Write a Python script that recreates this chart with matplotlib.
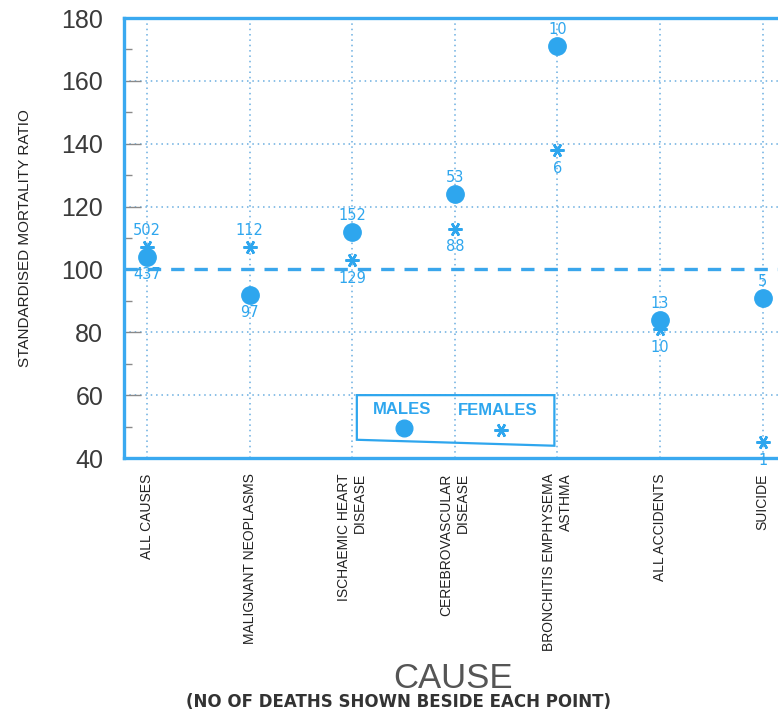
import matplotlib
matplotlib.use("Agg")
import matplotlib.pyplot as plt
from matplotlib.patches import Polygon
from matplotlib.ticker import MultipleLocator

causes = [
    "ALL CAUSES",
    "MALIGNANT NEOPLASMS",
    "ISCHAEMIC HEART\nDISEASE",
    "CEREBROVASCULAR\nDISEASE",
    "BRONCHITIS EMPHYSEMA\nASTHMA",
    "ALL ACCIDENTS",
    "SUICIDE",
]
male_smr = [104, 92, 112, 124, 171, 84, 91]
female_smr = [107, 107, 103, 113, 138, 81, 45]
male_deaths = [437, 97, 152, 53, 10, 13, 5]
female_deaths = [502, 112, 129, 88, 6, 10, 1]

BLUE = "#2ea6ee"
SANS = ["Liberation Sans", "DejaVu Sans"]
STAR = (6, 2, 90)

fig = plt.figure(figsize=(7.78, 7.12), dpi=100)
ax = fig.add_axes([124 / 778, 254 / 712, 690 / 778, 440 / 712])

x = list(range(len(causes)))
ax.set_xlim(-0.224, 6.5)
ax.set_ylim(40, 180)

# dotted grid: verticals at every cause, horizontals every 20
for xi in x:
    ax.axvline(xi, color="#6aaee0", ls=(0, (1, 2.5)), lw=1.1, zorder=1)
for yv in [60, 80, 120, 140, 160]:
    ax.axhline(yv, color="#6aaee0", ls=(0, (1, 2.5)), lw=1.1, zorder=1)
ax.axhline(100, color="#3aa6ec", ls=(0, (4, 3)), lw=2.4, zorder=2)

ax.plot(x, male_smr, ls="none", marker="o", ms=12.5, color=BLUE,
        mec=BLUE, zorder=4)
ax.plot(x, female_smr, ls="none", marker=STAR, ms=10, mew=1.8,
        color=BLUE, mec=BLUE, zorder=4)

# death counts: upper point labelled above, lower one below
for xi, m, f, md, fd in zip(x, male_smr, female_smr, male_deaths, female_deaths):
    hi, lo = (m, f) if m >= f else (f, m)
    hi_n, lo_n = (md, fd) if m >= f else (fd, md)
    ax.annotate(str(hi_n), (xi, hi), xytext=(0, 12), textcoords="offset points",
                ha="center", va="center", color=BLUE, fontsize=10.5,
                family="DejaVu Sans", zorder=5)
    ax.annotate(str(lo_n), (xi, lo), xytext=(0, -13), textcoords="offset points",
                ha="center", va="center", color=BLUE, fontsize=10.5,
                family="DejaVu Sans", zorder=5)

# key box
box = Polygon([(2.045, 60), (2.045, 45.8), (3.97, 43.9), (3.97, 60)],
              closed=True, fill=False, ec=BLUE, lw=1.6, zorder=3)
ax.add_patch(box)
ax.text(2.49, 55.5, "MALES", color=BLUE, fontsize=12, fontweight="bold",
        ha="center", va="center", family=SANS)
ax.text(3.42, 55, "FEMALES", color=BLUE, fontsize=12, fontweight="bold",
        ha="center", va="center", family=SANS)
ax.plot([2.5], [49.5], ls="none", marker="o", ms=12, color=BLUE, zorder=4)
ax.plot([3.45], [48.8], ls="none", marker=STAR, ms=10, mew=1.8,
        color=BLUE, zorder=4)

for side in ["left", "bottom", "top"]:
    ax.spines[side].set_color("#3aa9f0")
    ax.spines[side].set_linewidth(2.4)
ax.spines["right"].set_visible(False)

ax.yaxis.set_major_locator(MultipleLocator(20))
ax.yaxis.set_minor_locator(MultipleLocator(10))
ax.tick_params(axis="y", which="major", direction="in", length=12, width=1,
               color="#8a8a8a", pad=15, labelsize=18, labelcolor="#3a3a3a")
ax.tick_params(axis="y", which="minor", direction="in", length=6, width=1,
               color="#8a8a8a")
for lab in ax.get_yticklabels():
    lab.set_family(SANS)

ax.set_xticks(x)
ax.set_xticklabels(causes, rotation=90, va="top", ha="center",
                   multialignment="right", fontsize=10, family=SANS,
                   color="#222222")
ax.tick_params(axis="x", length=0, pad=11)

ax.set_ylabel("STANDARDISED MORTALITY RATIO", fontsize=11, family=SANS,
              color="#222222", labelpad=21)

fig.text(453 / 778, 1 - 678 / 712, "CAUSE", ha="center", va="center",
         fontsize=25, color="#555555", family=SANS)
fig.text(399 / 778, 1 - 702 / 712, "(NO OF DEATHS SHOWN BESIDE EACH POINT)",
         ha="center", va="center", fontsize=12, fontweight="bold",
         color="#333333", family="DejaVu Sans")

fig.savefig("out.png", dpi=100)
